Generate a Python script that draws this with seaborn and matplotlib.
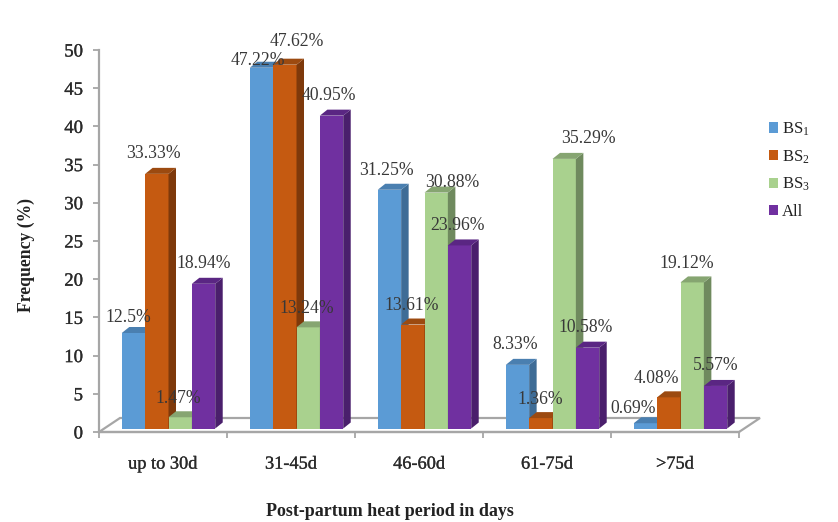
import matplotlib
matplotlib.use('Agg')
import matplotlib.pyplot as plt
import matplotlib.patheffects as pe
import pandas as pd
import seaborn as sns
from matplotlib.patches import Patch, Polygon

# Values
periods = ['up to 30d', '31-45d', '46-60d', '61-75d', '>75d']
series_names = ['BS$_1$', 'BS$_2$', 'BS$_3$', 'All']
bs1 = [12.5, 47.22, 31.25, 8.33, 0.69]
bs2 = [33.33, 47.62, 13.61, 1.36, 4.08]
bs3 = [1.47, 13.24, 30.88, 35.29, 19.12]
all_bs = [18.94, 40.95, 23.96, 10.58, 5.57]
y_ticks = list(range(0, 55, 5))

# Label texts as printed on the chart
labels_bs1 = ['12.5%', '47.22%', '31.25%', '8.33%', '0.69%']
labels_bs2 = ['33.33%', '47.62%', '13.61%', '1.36%', '4.08%']
labels_bs3 = ['1.47%', '13.24%', '30.88%', '35.29%', '19.12%']
labels_all = ['18.94%', '40.95%', '23.96%', '10.58%', '5.57%']

# Label offsets from the bar top, in pixels
offsets_bs1 = [(-5, 16), (-4, 7), (-3, 19), (-2, 20), (-12, 15)]
offsets_bs2 = [(-3, 20), (12, 23), (-1, 19), (-1, 19), (-12, 19)]
offsets_bs3 = [(-2, 19), (-1, 19), (16, 10), (24, 20), (-5, 19)]
offsets_all = [(0, 20), (-3, 20), (-2, 20), (-2, 20), (0, 20)]

colors = ['#5B9BD5', '#C55A11', '#A9D18E', '#7030A0']
side_colors = ['#3E6C96', '#7E390B', '#6F8A5E', '#4A1F6C']
top_colors = ['#4A7FB0', '#9C4A10', '#86A571', '#5A2683']

W, H = 838, 522
PX_X = 128.0   # pixels per category
PX_Y = 7.64    # pixels per percent

sns.set_theme(style='white')
plt.rcParams['font.family'] = ['Liberation Serif', 'DejaVu Sans']
plt.rcParams['mathtext.fontset'] = 'custom'
plt.rcParams['mathtext.rm'] = 'Liberation Serif'
plt.rcParams['mathtext.it'] = 'Liberation Serif'
plt.rcParams['mathtext.bf'] = 'Liberation Serif:bold'

# Thin stroke, the reference tick text is a bit heavier than regular
heavy = [pe.withStroke(linewidth=0.2, foreground='#333333')]

fig = plt.figure(figsize=(W / 100, H / 100), dpi=100)

# Frame axes: floor, spines and ticks
frame = fig.add_axes([99 / W, (H - 432) / H, 640 / W, 382 / H])
frame.set_xlim(-0.5, 4.5)
frame.set_ylim(0, 50)
frame.patch.set_alpha(0)
for side in ['top', 'right']:
    frame.spines[side].set_visible(False)
for side in ['left', 'bottom']:
    frame.spines[side].set_color('#a6a6a6')
    frame.spines[side].set_linewidth(1.6)

floor_dx = 21 / PX_X
floor_dy = 14 / PX_Y
frame.add_patch(Polygon([(-0.5, 0), (-0.5 + floor_dx, floor_dy),
                         (4.5 + floor_dx, floor_dy), (4.5, 0)],
                        closed=True, facecolor='white', edgecolor='#a6a6a6',
                        linewidth=1.6, clip_on=False, zorder=1))

frame.set_yticks(y_ticks)
frame.set_yticklabels([str(t) for t in y_ticks], fontsize=13.5, color='#2a2a2a')
frame.set_xticks([i - 0.5 for i in range(len(periods) + 1)])
frame.set_xticklabels([])
frame.set_xticks(range(len(periods)), minor=True)
frame.set_xticklabels(periods, minor=True, fontsize=13.2, color='#2a2a2a')
frame.tick_params(axis='both', which='major', length=4.5, width=1.3, color='#a6a6a6',
                  bottom=True, left=True)
frame.tick_params(axis='y', pad=7)
frame.tick_params(axis='x', which='minor', length=0, pad=17)
for tick_label in frame.get_yticklabels() + frame.get_xticklabels(minor=True):
    tick_label.set_path_effects(heavy)
frame.set_xlabel('Post-partum heat period in days', fontsize=13, fontweight='bold',
                 color='#222222')
frame.xaxis.set_label_coords((390 - 99) / 640, (432 - 512) / 382)
frame.xaxis.label.set_va('center')
frame.set_ylabel('Frequency (%)', fontsize=12.7, fontweight='bold', color='#222222')
frame.yaxis.set_label_coords((35 - 99) / 640, (432 - 255) / 382)

# Bars live in a second axes, shifted onto the floor
bar_ax = fig.add_axes([(99 + 5.5) / W, (H - 432 + 3.5) / H, 640 / W, 382 / H])
bar_ax.patch.set_alpha(0)

rows = []
for name, values in zip(series_names, [bs1, bs2, bs3, all_bs]):
    for period, value in zip(periods, values):
        rows.append({'period': period, 'series': name, 'value': value})
df = pd.DataFrame(rows)

sns.barplot(data=df, x='period', y='value', hue='series', order=periods,
            hue_order=series_names, palette=colors, width=0.73, saturation=1,
            legend=False, ax=bar_ax, linewidth=0)
bar_ax.set_xlim(-0.5, 4.5)
bar_ax.set_ylim(0, 50)
bar_ax.axis('off')

# Add the fake 3D side and top faces to each bar
dx = 7.5 / PX_X
dy = 6 / PX_Y
all_labels = [labels_bs1, labels_bs2, labels_bs3, labels_all]
all_offsets = [offsets_bs1, offsets_bs2, offsets_bs3, offsets_all]
for j, container in enumerate(bar_ax.containers):
    for i, bar in enumerate(container):
        x0 = bar.get_x()
        x1 = x0 + bar.get_width()
        h = bar.get_height()
        bar.set_zorder(3 + j)
        bar_ax.add_patch(Polygon([(x1, 0), (x1 + dx, dy), (x1 + dx, h + dy), (x1, h)],
                                 closed=True, facecolor=side_colors[j], linewidth=0,
                                 clip_on=False, zorder=3 + j))
        bar_ax.add_patch(Polygon([(x0, h), (x0 + dx, h + dy), (x1 + dx, h + dy), (x1, h)],
                                 closed=True, facecolor=top_colors[j], linewidth=0,
                                 clip_on=False, zorder=3 + j))
        bar_ax.annotate(all_labels[j][i], (x0 + bar.get_width() / 2, h),
                        xytext=all_offsets[j][i], textcoords='offset pixels',
                        ha='center', va='center', fontsize=12.7, color='#383838',
                        annotation_clip=False, zorder=20)

# Legend
handles = [Patch(facecolor=c, edgecolor='none', label=n) for c, n in zip(colors, series_names)]
legend = fig.legend(handles=handles, loc='center left', bbox_to_anchor=(769 / W, (H - 170) / H),
                    frameon=False, fontsize=12, handlelength=0.55, handleheight=0.55,
                    handletextpad=0.25, labelspacing=0.62, borderaxespad=0, borderpad=0,
                    labelcolor='#222222')

plt.savefig('out.png', dpi=100)
plt.close()
